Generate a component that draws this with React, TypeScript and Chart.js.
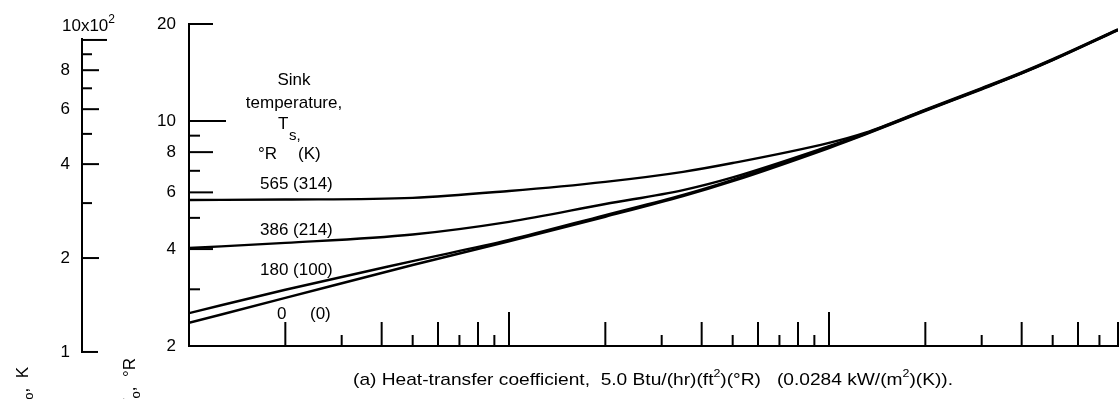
import React, { useEffect, useRef } from 'react';
import { Chart, registerables } from 'chart.js';

Chart.register(...registerables);

// ---- data (x: log scale; y: temperature x10^2 deg R) ----
const xValues = [1, 2, 5, 10, 20, 35, 50, 100, 130, 200, 300, 400, 500, 800];
const sink565 = [5.68, 5.70, 5.77, 6.06, 6.47, 6.95, 7.40, 8.55, 9.2, 10.85, 12.65, 14.15, 15.55, 19.25];
const sink386 = [4.03, 4.18, 4.44, 4.86, 5.52, 6.10, 6.68, 8.35, 9.15, 10.8, 12.6, 14.1, 15.5, 19.2];
const sink180 = [2.53, 2.99, 3.67, 4.27, 5.10, 5.89, 6.56, 8.3, 9.12, 10.78, 12.58, 14.08, 15.48, 19.18];
const sink0 = [2.36, 2.82, 3.57, 4.23, 5.04, 5.84, 6.50, 8.24, 9.08, 10.74, 12.54, 14.04, 15.44, 19.14];

const seriesLabels = ['565 (314)', '386 (214)', '180 (100)', '0   (0)'];

// ---- ticks ----
const xTickValues = [2, 3, 4, 5, 6, 7, 8, 9, 10, 20, 30, 40, 50, 60, 70, 80, 90, 100, 200, 300, 400, 500, 600, 700, 800];
const yTickValues = [2, 3, 4, 5, 6, 7, 8, 9, 10, 20];
const yTickLabels = ['2', '', '4', '', '6', '', '8', '', '10', '20'];
const kTickValues = [1, 2, 3, 4, 5, 6, 7, 8, 9, 10];
const kTickLabels = ['1', '2', '', '4', '', '6', '', '8', '', ''];

const FONT = "'Liberation Sans', Arial, sans-serif";

type Seg = { t: string; sup?: boolean; sub?: boolean; size?: number };

function richWidth(ctx: CanvasRenderingContext2D, segs: Seg[], size: number) {
  let w = 0;
  for (const s of segs) {
    const fs = s.size ?? (s.sup || s.sub ? Math.round(size * 0.65) : size);
    ctx.font = `${fs}px ${FONT}`;
    w += ctx.measureText(s.t).width;
  }
  return w;
}

function drawRich(ctx: CanvasRenderingContext2D, segs: Seg[], x: number, y: number, size: number, subDrop = 0.3) {
  let cx = x;
  for (const s of segs) {
    const fs = s.size ?? (s.sup || s.sub ? Math.round(size * 0.65) : size);
    ctx.font = `${fs}px ${FONT}`;
    const dy = s.sup ? -size * 0.45 : s.sub ? size * subDrop : 0;
    ctx.fillText(s.t, cx, y + dy);
    cx += ctx.measureText(s.t).width;
  }
  return cx - x;
}

function mantissa(v: number) {
  return Math.round(v / Math.pow(10, Math.floor(Math.log10(v) + 1e-9)));
}

const decorPlugin = {
  id: 'decor',
  afterDraw(chart: any) {
    const ctx: CanvasRenderingContext2D = chart.ctx;
    const xs = chart.scales.x;
    const ys = chart.scales.y;
    const ks = chart.scales.yK;
    ctx.save();
    ctx.strokeStyle = '#000';
    ctx.fillStyle = '#000';
    ctx.lineWidth = 2;
    const line = (x1: number, y1: number, x2: number, y2: number) => {
      ctx.beginPath();
      ctx.moveTo(x1, y1);
      ctx.lineTo(x2, y2);
      ctx.stroke();
    };

    // x ticks, drawn upward from the bottom axis
    const bottom = ys.getPixelForValue(yTickValues[0]);
    xTickValues.forEach((v) => {
      const m = mantissa(v);
      const len = m === 1 ? 34 : m % 2 === 0 ? 24 : 11;
      const px = xs.getPixelForValue(v);
      line(px, bottom, px, bottom - len);
    });

    // main y ticks, drawn inward
    const left = ys.right;
    yTickValues.forEach((v, i) => {
      if (i === 0) return;
      const m = mantissa(v);
      const len = m === 1 ? 37 : m % 2 === 0 ? 24 : 11;
      const py = ys.getPixelForValue(v);
      line(left, py, left + len, py);
    });

    // K axis
    const kx = ks.right;
    line(kx, ks.getPixelForValue(10) - 2, kx, ks.getPixelForValue(1) + 1);
    kTickValues.forEach((v) => {
      const len = v === 10 ? 25 : v === 1 ? 16 : v % 2 === 0 ? 17 : 10;
      const py = ks.getPixelForValue(v);
      line(kx, py, kx + len, py);
    });

    // K axis multiplier
    ctx.textAlign = 'left';
    ctx.textBaseline = 'alphabetic';
    drawRich(ctx, [{ t: '10x10' }, { t: '2', sup: true, size: 12 }], 62, 31, 17);

    // legend annotation
    ctx.font = `17px ${FONT}`;
    ctx.textAlign = 'center';
    ctx.fillText('Sink', 294, 85);
    ctx.fillText('temperature,', 294, 108);
    ctx.textAlign = 'left';
    ctx.fillText('T', 278, 129);
    ctx.font = `15px ${FONT}`;
    ctx.fillText('s,', 289, 140);
    ctx.font = `17px ${FONT}`;
    ctx.fillText('\u00B0R', 258, 159);
    ctx.fillText('(K)', 298, 159);
    ctx.fillText(seriesLabels[0], 260, 189);
    ctx.fillText(seriesLabels[1], 260, 235);
    ctx.fillText(seriesLabels[2], 260, 275);
    ctx.fillText('0', 277, 319);
    ctx.fillText('(0)', 310, 319);

    // caption
    const cap: Seg[] = [
      { t: '(a) Heat-transfer coefficient,  5.0 Btu/(hr)(ft' },
      { t: '2', sup: true, size: 11 },
      { t: ')(\u00B0R)   (0.0284 kW/(m' },
      { t: '2', sup: true, size: 11 },
      { t: ')(K)).' },
    ];
    const cw = richWidth(ctx, cap, 17);
    ctx.save();
    ctx.translate(353, 385);
    ctx.scale(600 / cw, 1);
    drawRich(ctx, cap, 0, 0, 17);
    ctx.restore();

    // rotated axis titles (mostly cut off at the bottom of the figure)
    const rot = (segs: Seg[], x: number, yEnd: number) => {
      const w = richWidth(ctx, segs, 17);
      ctx.save();
      ctx.translate(x, yEnd);
      ctx.rotate(-Math.PI / 2);
      drawRich(ctx, segs, -w, 0, 17);
      ctx.restore();
    };
    rot([{ t: 'Radiator inlet temperature, T' }, { t: 'o', sub: true, size: 13 }, { t: ',  K' }], 28, 367);
    rot([{ t: 'Radiator inlet temperature, T' }, { t: 'o', sub: true, size: 13 }, { t: ',  \u00B0R' }], 135, 358);

    ctx.restore();
  },
};

export default function App() {
  const ref = useRef<HTMLCanvasElement>(null);
  useEffect(() => {
    document.body.style.margin = '0';
    Chart.defaults.font.family = FONT;
    Chart.defaults.color = '#000';
    const mk = (data: number[], label: string) => ({
      label,
      data: xValues.map((x, i) => ({ x, y: data[i] })),
      borderColor: '#000',
      backgroundColor: '#000',
      borderWidth: 2.4,
      pointRadius: 0,
      fill: false,
      cubicInterpolationMode: 'monotone' as const,
      xAxisID: 'x',
      yAxisID: 'y',
    });
    const chart = new Chart(ref.current!, {
      type: 'line',
      data: {
        datasets: [
          mk(sink565, seriesLabels[0]),
          mk(sink386, seriesLabels[1]),
          mk(sink180, seriesLabels[2]),
          mk(sink0, seriesLabels[3]),
        ],
      },
      options: {
        responsive: false,
        animation: false,
        devicePixelRatio: 1,
        layout: { padding: { top: 24, right: 2, left: 0, bottom: 0 } },
        plugins: { legend: { display: false }, tooltip: { enabled: false } },
        scales: {
          x: {
            type: 'logarithmic',
            min: 1,
            max: 800,
            position: 'bottom',
            grid: { display: false },
            border: { display: true, color: '#000', width: 2 },
            ticks: { display: false },
            afterFit: (s: any) => {
              s.height = 53;
            },
          },
          y: {
            type: 'logarithmic',
            min: 2,
            max: 20,
            position: 'left',
            weight: 0,
            grid: { display: false },
            border: { display: true, color: '#000', width: 2 },
            afterBuildTicks: (s: any) => {
              s.ticks = yTickValues.map((v) => ({ value: v }));
            },
            ticks: {
              autoSkip: false,
              padding: 5,
              color: '#000',
              font: { size: 17, family: FONT },
              callback: (_v: any, i: number) => yTickLabels[i],
            },
            afterFit: (s: any) => {
              s.width = 107;
            },
          },
          yK: {
            type: 'logarithmic',
            min: 1.045,
            max: 11.25,
            position: 'left',
            weight: 1,
            grid: { display: false },
            border: { display: false },
            afterBuildTicks: (s: any) => {
              s.ticks = kTickValues.map((v) => ({ value: v }));
            },
            ticks: {
              autoSkip: false,
              padding: 4,
              color: '#000',
              font: { size: 17, family: FONT },
              callback: (_v: any, i: number) => kTickLabels[i],
            },
            afterFit: (s: any) => {
              s.width = 82;
            },
          },
        },
      },
      plugins: [decorPlugin],
    });
    return () => chart.destroy();
  }, []);
  return (
    <canvas
      ref={ref}
      width={1120}
      height={399}
      style={{ display: 'block', width: 1120, height: 399 }}
    />
  );
}
